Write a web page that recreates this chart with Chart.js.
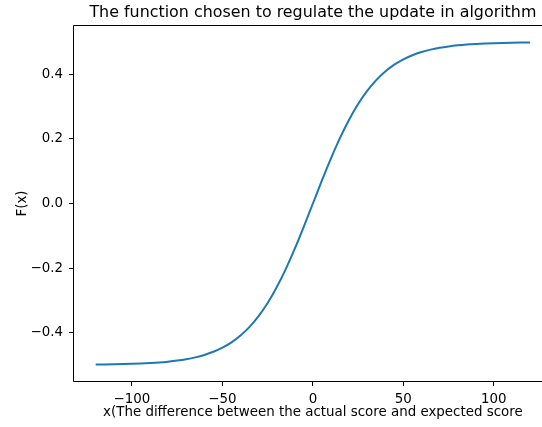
<!DOCTYPE html>
<html>
<head>
<meta charset="utf-8">
<script src="https://cdn.jsdelivr.net/npm/chart.js@4.4.1/dist/chart.umd.min.js"></script>
<style>
  html, body { margin: 0; padding: 0; background: #fff; overflow: hidden; }
</style>
</head>
<body>
<canvas id="fx" width="542" height="427"></canvas>
<script>
const xValues = [-120, -115, -110, -105, -100, -95, -90, -85, -80, -75, -70, -65, -60, -55, -50, -45, -40, -35, -30, -25, -20, -15, -10, -5, 0,
  5, 10, 15, 20, 25, 30, 35, 40, 45, 50, 55, 60, 65, 70, 75, 80, 85, 90, 95, 100, 105, 110, 115, 120];
const fValues = [-0.4990, -0.4987, -0.4982, -0.4976, -0.4968, -0.4958, -0.4944, -0.4926, -0.4901, -0.4868, -0.4825, -0.4768,
  -0.4693, -0.4595, -0.4468, -0.4302, -0.4091, -0.3823, -0.3490, -0.3083, -0.2597, -0.2034, -0.1401, -0.0715, 0,
  0.0715, 0.1401, 0.2034, 0.2597, 0.3083, 0.3490, 0.3823, 0.4091, 0.4302, 0.4468, 0.4595, 0.4693, 0.4768,
  0.4825, 0.4868, 0.4901, 0.4926, 0.4944, 0.4958, 0.4968, 0.4976, 0.4982, 0.4987, 0.4990];
const xTicks = [-100, -50, 0, 50, 100];
const yTicks = [-0.4, -0.2, 0.0, 0.2, 0.4];

const titleText = "The function chosen to regulate the update in algorithm";
const xLabel = "x(The difference between the actual score and expected score";
const fontFamily = "'DejaVu Sans', sans-serif";

const minus = (s) => s.replace("-", "\u2212");

// frame (right side is cut off in the reference), title and x label
const framePlugin = {
  id: "frame",
  afterDraw(chart) {
    const { ctx, chartArea: a } = chart;
    // the axes run past the right edge of the picture: centre on x = 0
    const cx = chart.scales.x.getPixelForValue(0);
    ctx.save();
    // keep the right strip of the plot area clear (no right spine in the reference)
    ctx.fillStyle = "#fff";
    ctx.fillRect(535, a.top + 1, chart.width - 535, a.bottom - a.top - 1);
    ctx.strokeStyle = "#000";
    ctx.lineWidth = 1;
    ctx.beginPath();
    ctx.moveTo(chart.width + 1, a.top - 0.5);
    ctx.lineTo(a.left - 0.5, a.top - 0.5);
    ctx.lineTo(a.left - 0.5, a.bottom + 0.5);
    ctx.lineTo(chart.width + 1, a.bottom + 0.5);
    ctx.stroke();
    ctx.fillStyle = "#000";
    ctx.textAlign = "center";
    ctx.font = "15.9px " + fontFamily;
    ctx.textBaseline = "alphabetic";
    ctx.fillText(titleText, cx, 17);
    ctx.font = "13.4px " + fontFamily;
    ctx.textBaseline = "middle";
    ctx.fillText(xLabel, cx, 413);
    ctx.restore();
  },
};

const ctx = document.getElementById("fx");
const fxChart = new Chart(ctx, {
  type: "line",
  data: {
    datasets: [
      {
        data: xValues.map((x, i) => ({ x: x, y: fValues[i] })),
        borderColor: "#1f77b4",
        borderWidth: 2,
        pointRadius: 0,
        fill: false,
        cubicInterpolationMode: "monotone",
      },
    ],
  },
  options: {
    responsive: false,
    animation: false,
    layout: { padding: { left: 0, right: 0, top: 26, bottom: 0 } },
    plugins: {
      legend: { display: false },
      tooltip: { enabled: false },
    },
    scales: {
      x: {
        type: "linear",
        min: -132,
        max: 126.6,
        afterBuildTicks: (axis) => {
          axis.ticks = xTicks.map((v) => ({ value: v }));
        },
        afterFit: (axis) => {
          axis.height = 46;
        },
        border: { display: false },
        grid: { drawOnChartArea: false, drawTicks: true, tickLength: 5, tickColor: "#000", lineWidth: 1 },
        ticks: {
          color: "#000",
          padding: 5.5,
          maxRotation: 0,
          font: { family: fontFamily, size: 13.4 },
          callback: (v) => minus(String(v)),
        },
      },
      y: {
        min: -0.55,
        max: 0.55,
        afterBuildTicks: (axis) => {
          axis.ticks = yTicks.map((v) => ({ value: v }));
        },
        afterFit: (axis) => {
          axis.width = 74;
        },
        border: { display: false },
        grid: { drawOnChartArea: false, drawTicks: true, tickLength: 5, tickColor: "#000", lineWidth: 1 },
        ticks: {
          color: "#000",
          padding: 6,
          font: { family: fontFamily, size: 13.4 },
          callback: (v) => minus(v.toFixed(1)),
        },
        title: {
          display: true,
          text: "F(x)",
          color: "#000",
          font: { family: fontFamily, size: 13.4 },
          padding: { top: 14, bottom: 0 },
        },
      },
    },
  },
  plugins: [framePlugin],
});
</script>
</body>
</html>
